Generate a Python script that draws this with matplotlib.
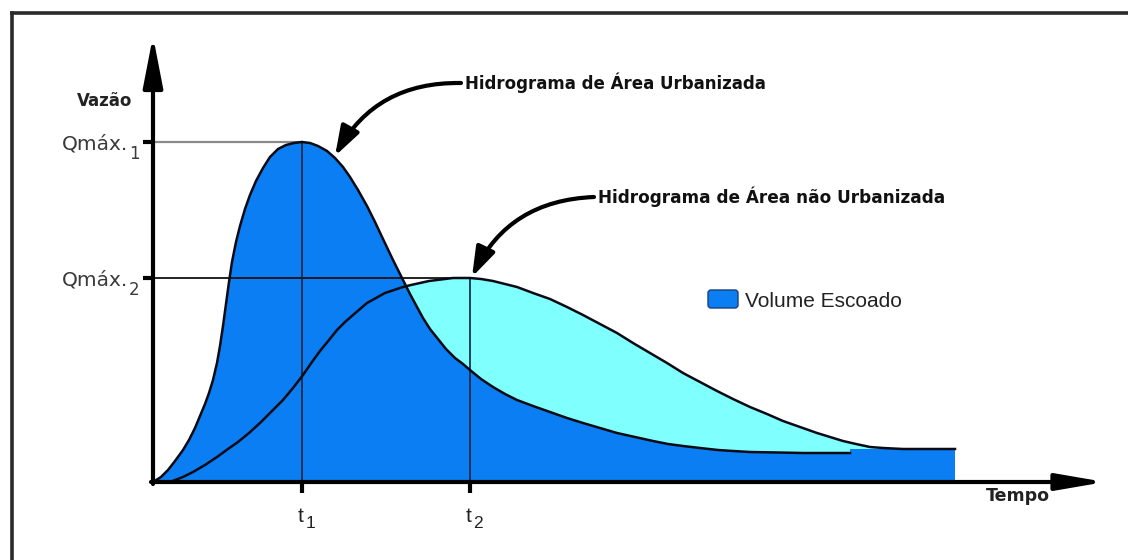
import numpy as np
import matplotlib.pyplot as plt
from matplotlib.patches import FancyBboxPatch
from matplotlib.lines import Line2D

# Colours
BLUE = '#0a7ef2'
CYAN = '#80ffff'

# Hydrograph of the urbanised area (time, discharge)
urb_t = [0.00, 0.08, 0.15, 0.22, 0.30, 0.36, 0.42, 0.47, 0.52, 0.56, 0.60, 0.64,
         0.67, 0.70, 0.73, 0.76, 0.79, 0.83, 0.87, 0.92, 0.97, 1.03, 1.10, 1.17,
         1.25, 1.33, 1.41, 1.49, 1.57, 1.65, 1.74, 1.82, 1.90, 1.97, 2.05, 2.14,
         2.22, 2.30, 2.40, 2.50, 2.57, 2.64, 2.70, 2.77, 2.85, 2.93, 3.02, 3.10,
         3.17, 3.28, 3.40, 3.52, 3.64, 3.80, 3.97, 4.14, 4.30, 4.47, 4.64, 4.82,
         5.00, 5.15, 5.30, 5.47, 5.65, 5.80, 5.97, 6.25, 6.50, 6.75, 6.97]
urb_q = [0.00, 0.05, 0.12, 0.21, 0.32, 0.42, 0.54, 0.66, 0.78, 0.89, 1.02, 1.19,
         1.36, 1.56, 1.78, 2.00, 2.20, 2.40, 2.56, 2.73, 2.87, 3.01, 3.14, 3.25,
         3.33, 3.37, 3.39, 3.40, 3.39, 3.36, 3.31, 3.24, 3.15, 3.05, 2.92, 2.76,
         2.60, 2.43, 2.22, 2.02, 1.88, 1.75, 1.64, 1.53, 1.43, 1.33, 1.24, 1.18,
         1.12, 1.03, 0.95, 0.88, 0.82, 0.76, 0.70, 0.64, 0.59, 0.54, 0.49, 0.45,
         0.41, 0.38, 0.36, 0.34, 0.32, 0.31, 0.30, 0.295, 0.29, 0.29, 0.29]

# Hydrograph of the non-urbanised area
rur_t = [0.17, 0.30, 0.40, 0.52, 0.64, 0.75, 0.85, 0.96, 1.07, 1.18, 1.30, 1.40,
         1.50, 1.59, 1.67, 1.76, 1.84, 1.92, 2.00, 2.07, 2.14, 2.23, 2.32, 2.41,
         2.50, 2.58, 2.67, 2.76, 2.84, 2.92, 3.00, 3.08, 3.17, 3.28, 3.40, 3.52,
         3.64, 3.80, 3.97, 4.14, 4.30, 4.47, 4.64, 4.80, 4.97, 5.14, 5.30, 5.47,
         5.64, 5.80, 5.97, 6.14, 6.30, 6.47, 6.64, 6.77, 6.90, 7.03, 7.17, 7.30,
         7.50, 7.75, 8.02]
rur_q = [0.00, 0.05, 0.10, 0.17, 0.25, 0.33, 0.40, 0.49, 0.59, 0.70, 0.82, 0.94,
         1.07, 1.20, 1.31, 1.42, 1.52, 1.60, 1.67, 1.73, 1.79, 1.84, 1.89, 1.92,
         1.95, 1.97, 1.99, 2.01, 2.02, 2.03, 2.04, 2.04, 2.04, 2.03, 2.01, 1.98,
         1.95, 1.89, 1.83, 1.75, 1.67, 1.58, 1.49, 1.39, 1.29, 1.19, 1.09, 1.00,
         0.91, 0.83, 0.75, 0.68, 0.61, 0.55, 0.49, 0.45, 0.41, 0.38, 0.35, 0.34,
         0.33, 0.33, 0.33]

# base flow block at the end of the record
base_t = [6.97, 8.02]
base_q = [0.33, 0.33]

t1, t2 = 1.49, 3.17
qmax1, qmax2 = 3.40, 2.04

fig = plt.figure(figsize=(11.28, 5.6), dpi=100)
ax = fig.add_axes([0, 0, 1, 1])
ax.set_xlim(-1.53, 9.75)
ax.set_ylim(-0.78, 4.82)
ax.axis('off')

# frame (only top and left edges are visible in the original)
fig.add_artist(Line2D([0.0105, 0.0105], [0, 0.977], color='#2a2a2a', lw=2.6))
fig.add_artist(Line2D([0.0105, 1.0], [0.977, 0.977], color='#2a2a2a', lw=2.6))

# fills: cyan under the non-urban curve, blue under the urban one on top
ax.fill(rur_t + [rur_t[-1], rur_t[0]], rur_q + [0, 0], color=CYAN, lw=0, zorder=1)
ax.fill(urb_t + base_t + [base_t[-1], 0], urb_q + base_q + [0, 0],
        color=BLUE, lw=0, zorder=2)

# reference lines
ax.plot([0, t1], [qmax1, qmax1], color='#8a8a8a', lw=1.6, zorder=3)
ax.plot([0, t2], [qmax2, qmax2], color='#111111', lw=1.3, zorder=3)
ax.plot([t1, t1], [0, qmax1], color='#10223a', lw=1.2, zorder=3)
ax.plot([t2, t2], [0, qmax2], color='#10223a', lw=1.2, zorder=3)

# hydrograph outlines
ax.plot(urb_t, urb_q, color='#0a0a14', lw=1.8, zorder=4, solid_joinstyle='round')
ax.plot(rur_t, rur_q, color='#0a0a14', lw=1.8, zorder=4, solid_joinstyle='round')

# axes with arrow heads
ax.annotate('', xy=(0, 4.46), xytext=(0, -0.02),
            arrowprops=dict(arrowstyle='-|>,head_length=31,head_width=6',
                            mutation_scale=1, lw=3, color='black',
                            shrinkA=0, shrinkB=0), zorder=5)
ax.annotate('', xy=(9.52, 0), xytext=(-0.02, 0),
            arrowprops=dict(arrowstyle='-|>,head_length=29,head_width=5',
                            mutation_scale=1, lw=3, color='black',
                            shrinkA=0, shrinkB=0), zorder=5)

# tick marks
for tt in (t1, t2):
    ax.plot([tt, tt], [0, -0.11], color='black', lw=3, solid_capstyle='butt', zorder=5)
for qq in (qmax1, qmax2):
    ax.plot([-0.10, 0], [qq, qq], color='black', lw=3, solid_capstyle='butt', zorder=5)

bold_font = ['DejaVu Sans']
arial = ['Liberation Sans', 'DejaVu Sans']

ax.text(-0.48, 3.81, 'Vazão', fontsize=12, fontweight='bold', family=bold_font,
        ha='center', va='center', color='#222222')
for qq, sub in ((qmax1, '1'), (qmax2, '2')):
    ax.text(-0.245, qq - 0.07, 'Qmáx.', fontsize=14.5, family=bold_font,
            ha='right', va='baseline', color='#3a3a3a')
    ax.text(-0.185, qq - 0.12, sub, fontsize=12, family=bold_font,
            ha='center', va='center', color='#3a3a3a')

for tt, sub in ((t1, '1'), (t2, '2')):
    ax.text(tt - 0.01, -0.35, 't', fontsize=15, family=arial, ha='center',
            va='center', color='#222222')
    ax.text(tt + 0.035, -0.42, sub, fontsize=12.5, family=arial, ha='left',
            va='center', color='#222222')

ax.text(8.65, -0.14, 'Tempo', fontsize=12.5, fontweight='bold', family=bold_font,
        ha='center', va='center', color='#222222')

# callouts
ax.text(3.12, 3.99, 'Hidrograma de Área Urbanizada', fontsize=12,
        fontweight='bold', family=bold_font, ha='left', va='center', color='#111111')
ax.annotate('', xy=(1.82, 3.26), xytext=(3.08, 3.99),
            arrowprops=dict(arrowstyle='-|>,head_length=18,head_width=6',
                            mutation_scale=1, lw=3, color='black',
                            connectionstyle='arc3,rad=0.3',
                            shrinkA=0, shrinkB=0), zorder=6)
ax.text(4.45, 2.85, 'Hidrograma de Área não Urbanizada', fontsize=12.2,
        fontweight='bold', family=bold_font, ha='left', va='center', color='#111111')
ax.annotate('', xy=(3.19, 2.05), xytext=(4.41, 2.85),
            arrowprops=dict(arrowstyle='-|>,head_length=18,head_width=6',
                            mutation_scale=1, lw=3, color='black',
                            connectionstyle='arc3,rad=0.3',
                            shrinkA=0, shrinkB=0), zorder=6)

# legend swatch
ax.add_patch(FancyBboxPatch((5.55, 1.74), 0.30, 0.18,
                            boxstyle='round,pad=0,rounding_size=0.03',
                            facecolor=BLUE, edgecolor='#1a3f7a', lw=1, zorder=6))
ax.text(5.92, 1.81, 'Volume Escoado', fontsize=15, family=arial,
        ha='left', va='center', color='#222222')

fig.savefig('out.png', dpi=100)
